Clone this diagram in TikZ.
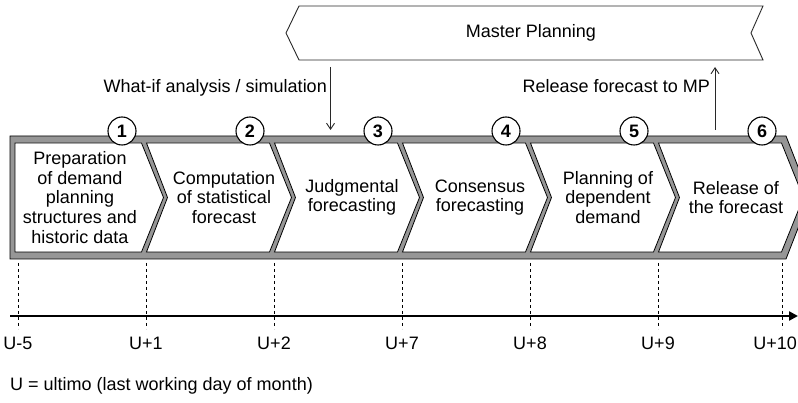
\documentclass[tikz,border=0pt]{standalone}
\usepackage{fontspec}
\setmainfont{Liberation Sans}
\usetikzlibrary{arrows.meta}
\definecolor{band}{RGB}{150,150,150}
\definecolor{edge}{RGB}{40,40,40}
\begin{document}
\begin{tikzpicture}[x=1pt,y=-1pt,
  every node/.style={font=\fontsize{18}{19.6}\selectfont},
  lbl/.style={align=center, inner sep=0pt},
  num/.style={circle, draw=black, fill=white, line width=1.1pt, minimum size=28pt, inner sep=0pt, font=\fontsize{18}{19.6}\selectfont\bfseries},
  chev/.style={draw=black, fill=white, line width=0.8pt},
  tickline/.style={dash pattern=on 3pt off 3pt, line width=0.7pt},
  arr/.style={line width=0.9pt, draw=edge, -{Straight Barb[length=6pt,width=8pt]}}]
\useasboundingbox (0,0) rectangle (798,403);
% Master Planning
\draw[draw=edge, fill=white, line width=0.9pt] (299,6) -- (763,6) -- (751,33) -- (763,60) -- (299,60) -- (286,33) -- cycle;
\node (mp) at (531,33) {Master Planning};
% outer band
\draw[fill=band, line width=0.8pt] (10,136) -- (786,136) -- (810,197.5) -- (786,259) -- (10,259) -- cycle;
% chevrons
\draw[chev] (15,143) -- (141.5,143) -- (163.5,197.5) -- (141.5,252) -- (15,252) -- cycle;
\foreach \L/\R in {144/272, 272/400, 400/528, 528/656, 656/784}{
  \draw[chev] (\L+2.5,143) -- (\R-2.5,143) -- (\R+19.5,197.5) -- (\R-2.5,252) -- (\L+2.5,252) -- (\L+23.5,197.5) -- cycle;
}
% texts
\node[lbl] (c1) at (80,197.5) {Preparation\\of demand\\planning\\structures and\\historic data};
\node[lbl] (c2) at (224,197.5) {Computation\\of statistical\\forecast};
\node[lbl] (c3) at (352,197.5) {Judgmental\\forecasting};
\node[lbl] (c4) at (480,197.5) {Consensus\\forecasting};
\node[lbl] (c5) at (608,197.5) {Planning of\\dependent\\demand};
\node[lbl] (c6) at (736,197.5) {Release of\\the forecast};
% numbers
\foreach \n/\x in {1/122, 2/250, 3/378, 4/506, 5/634, 6/762}{
  \node[num] (n\n) at (\x,131) {\n};
}
% arrows to/from master planning
\node[anchor=base east, inner sep=0pt] (whatif) at (327,93) {What-if analysis / simulation};
\coordinate (w1) at (330.5,67);
\coordinate (w2) at (330.5,130);
\draw[arr] (w1) -- (w2);
\node[anchor=base east, inner sep=0pt] (release) at (710,93) {Release forecast to MP};
\coordinate (r1) at (715,130);
\coordinate (r2) at (715,67);
\draw[arr] (r1) -- (r2);
% timeline
\foreach \i/\x/\t in {1/18/U-5, 2/146/U+1, 3/274/U+2, 4/402/U+7, 5/530/U+8, 6/658/U+9}{
  \coordinate (ta\i) at (\x,263);
  \coordinate (tb\i) at (\x,329);
  \draw[tickline] (ta\i) -- (tb\i);
  \node[inner sep=0pt] (tl\i) at (\x,343) {\t};
}
\coordinate (ta7) at (782,263);
\coordinate (tb7) at (782,329);
\draw[tickline] (ta7) -- (tb7);
\node[inner sep=0pt, anchor=east] (tl7) at (797,343) {U+10};
\coordinate (axL) at (10,316);
\coordinate (axR) at (798,316);
\draw[line width=2.2pt, -{Triangle[length=9pt,width=9pt]}] (axL) -- (axR);
\node[anchor=west, inner sep=0pt] (note) at (10,386) {U = ultimo (last working day of month)};
\end{tikzpicture}
\end{document}
